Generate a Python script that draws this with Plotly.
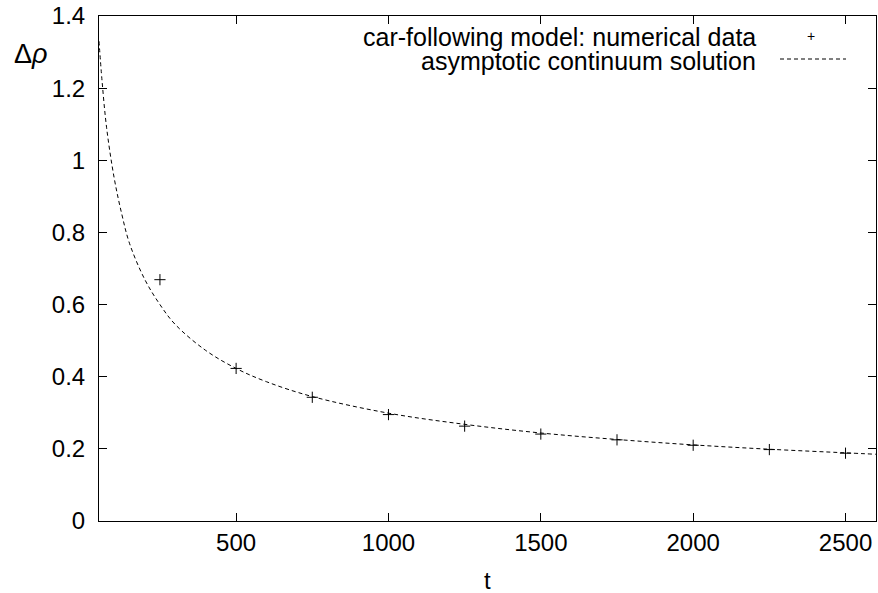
import plotly.graph_objects as go

# numerical data (car-following model)
t_data = [250, 500, 750, 1000, 1250, 1500, 1750, 2000, 2250, 2500]
rho_data = [0.669, 0.423, 0.343, 0.295, 0.263, 0.241, 0.225, 0.210, 0.198, 0.188]

# asymptotic continuum solution
t_curve = [50, 60, 75, 100, 125, 150, 200, 250, 300, 400, 500, 600, 750, 1000,
           1250, 1500, 1750, 2000, 2250, 2500, 2600]
rho_curve = [1.33, 1.22, 1.09, 0.95, 0.85, 0.77, 0.67, 0.60, 0.545, 0.473, 0.423,
             0.386, 0.345, 0.299, 0.268, 0.244, 0.226, 0.211, 0.199, 0.189, 0.185]

x_ticks = [500, 1000, 1500, 2000, 2500]
y_ticks = [0, 0.2, 0.4, 0.6, 0.8, 1.0, 1.2, 1.4]
y_labels = ["0", "0.2", "0.4", "0.6", "0.8", "1", "1.2", "1.4"]

legend_labels = ["car-following model: numerical data", "asymptotic continuum solution"]

FONT = "Liberation Sans, Arial, sans-serif"
FS = 24

fig = go.Figure()
fig.add_trace(go.Scatter(x=t_curve, y=rho_curve, mode="lines",
                         line=dict(color="black", width=1, dash="4px,3px"),
                         line_shape="spline", showlegend=False))
fig.add_trace(go.Scatter(x=t_data, y=rho_data, mode="markers",
                         marker=dict(symbol="cross-thin", size=8,
                                     line=dict(color="black", width=1)),
                         showlegend=False))

axis_common = dict(showline=True, linecolor="black", linewidth=1, mirror="ticks",
                   ticks="inside", ticklen=8, tickcolor="black", tickwidth=1,
                   showgrid=False, zeroline=False,
                   tickfont=dict(family=FONT, size=FS, color="black"))

fig.update_layout(
    width=878, height=593,
    margin=dict(l=99, r=2, t=16, b=72),
    paper_bgcolor="white", plot_bgcolor="white",
    xaxis=dict(range=[50, 2600], tickvals=x_ticks, **axis_common),
    yaxis=dict(range=[0, 1.4], tickvals=y_ticks, ticktext=y_labels, ticklabelstandoff=8,
               **axis_common),
    showlegend=False,
)

pw = 878 - 99 - 2
ph = 593 - 16 - 72
def px2paper_x(px):
    return (px - 99) / pw
def px2paper_y(py):
    return 1 - (py - 16) / ph

# axis titles
fig.add_annotation(text="t", xref="paper", yref="paper", showarrow=False,
                   x=px2paper_x(488), y=px2paper_y(580), xanchor="center", yanchor="middle",
                   font=dict(family=FONT, size=FS, color="black"))
fig.add_annotation(text="Δ<i>ρ</i>", xref="paper", yref="paper", showarrow=False,
                   x=px2paper_x(12), y=px2paper_y(54), xanchor="left", yanchor="middle",
                   font=dict(family=FONT, size=27, color="black"))

# legend (gnuplot style: text then sample at right)
fig.add_annotation(text=legend_labels[0], xref="paper", yref="paper", showarrow=False,
                   x=px2paper_x(758), y=px2paper_y(37), xanchor="right", yanchor="middle",
                   font=dict(family=FONT, size=25, color="black"))
fig.add_annotation(text=legend_labels[1], xref="paper", yref="paper", showarrow=False,
                   x=px2paper_x(758), y=px2paper_y(61), xanchor="right", yanchor="middle",
                   font=dict(family=FONT, size=25, color="black"))
fig.add_annotation(text="+", xref="paper", yref="paper", showarrow=False,
                   x=px2paper_x(811), y=px2paper_y(36), xanchor="center", yanchor="middle",
                   font=dict(family=FONT, size=14, color="black"))
fig.add_shape(type="line", xref="paper", yref="paper",
              x0=px2paper_x(780), x1=px2paper_x(846), y0=px2paper_y(59), y1=px2paper_y(59),
              line=dict(color="black", width=1, dash="4px,3px"))

fig.write_html("out.html")
